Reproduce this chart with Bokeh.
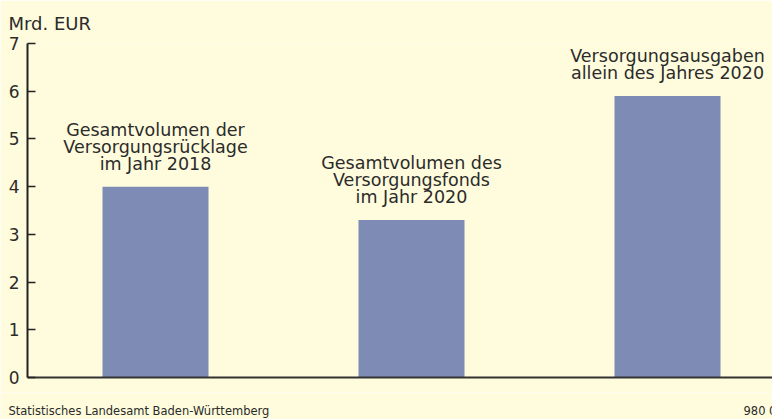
from bokeh.plotting import figure
from bokeh.models import Range1d, FixedTicker, ColumnDataSource
from bokeh.layouts import column
from bokeh.core.properties import value
from bokeh.embed import file_html
from bokeh.resources import INLINE

# ---- data ----
categories = [
    "Gesamtvolumen der\nVersorgungsrücklage\nim Jahr 2018",
    "Gesamtvolumen des\nVersorgungsfonds\nim Jahr 2020",
    "Versorgungsausgaben\nallein des Jahres 2020",
]
values = [4.0, 3.3, 5.9]
y_ticks = [0, 1, 2, 3, 4, 5, 6, 7]
unit_label = "Mrd. EUR"
footer_texts = ["Statistisches Landesamt Baden-Württemberg", "980 0"]

BG = "#fefcdc"
BAR = "#7d8bb5"
TXT = "#2b2b2b"
FONT = "DejaVu Sans"

xpos = list(range(len(categories)))
src = ColumnDataSource(dict(x=xpos, top=values, label=categories))

p = figure(
    width=772, height=392,
    x_range=Range1d(-0.5, -0.5 + 745 / 256),
    y_range=Range1d(0, 7),
    output_backend="svg", toolbar_location=None,
    min_border_left=27, min_border_right=0, min_border_top=43, min_border_bottom=15,
)
p.background_fill_color = BG
p.border_fill_color = BG
p.outline_line_color = None
p.grid.grid_line_color = None

p.title.text = unit_label
p.title.align = "left"
p.title.offset = -19
p.title.standoff = 20
p.title.text_font = FONT
p.title.text_font_size = "18px"
p.title.text_font_style = "normal"
p.title.text_color = TXT

p.vbar(x="x", top="top", width=106 / 256, source=src, fill_color=BAR, line_color=None)

p.text(x="x", y="top", text="label", source=src, text_align="center", text_baseline="bottom",
       y_offset=-13, text_font=value(FONT), text_font_size="17.5px", text_color=TXT,
       text_line_height=0.85)

# y axis
ya = p.yaxis[0]
ya.ticker = FixedTicker(ticks=y_ticks)
ya.axis_line_width = 2
ya.axis_line_color = "#222222"
ya.major_tick_in = 8
ya.major_tick_out = 0
ya.major_tick_line_width = 1.5
ya.major_tick_line_color = "#222222"
ya.minor_tick_line_color = None
ya.major_label_standoff = 8
ya.major_label_text_font = FONT
ya.major_label_text_font_size = "17px"
ya.major_label_text_color = TXT

# x axis: baseline only
xa = p.xaxis[0]
xa.ticker = FixedTicker(ticks=[])
xa.axis_line_width = 2
xa.axis_line_color = "#333333"
xa.major_tick_line_color = None
xa.minor_tick_line_color = None
xa.major_label_text_font_size = "0px"

# footer strip
f = figure(
    width=772, height=27,
    x_range=Range1d(0, 772), y_range=Range1d(0, 27),
    x_axis_type=None, y_axis_type=None,
    output_backend="svg", toolbar_location=None,
    min_border=0,
)
f.background_fill_color = BG
f.border_fill_color = BG
f.outline_line_color = None
f.grid.grid_line_color = None
fsrc = ColumnDataSource(dict(x=[8, 743], y=[9, 9], t=footer_texts))
f.text(x="x", y="y", text="t", source=fsrc, text_align="left", text_baseline="alphabetic",
       text_font=value(FONT), text_font_size="11.5px", text_color=TXT)

for fig in (p, f):
    if "frame_align" in fig.properties():
        fig.frame_align = False

layout = column(p, f, spacing=0)
html = file_html(layout, INLINE)
html = html.replace("<body>", '<body style="margin:0;background:%s;overflow:hidden">' % BG, 1)
open("out.html", "w").write(html)
